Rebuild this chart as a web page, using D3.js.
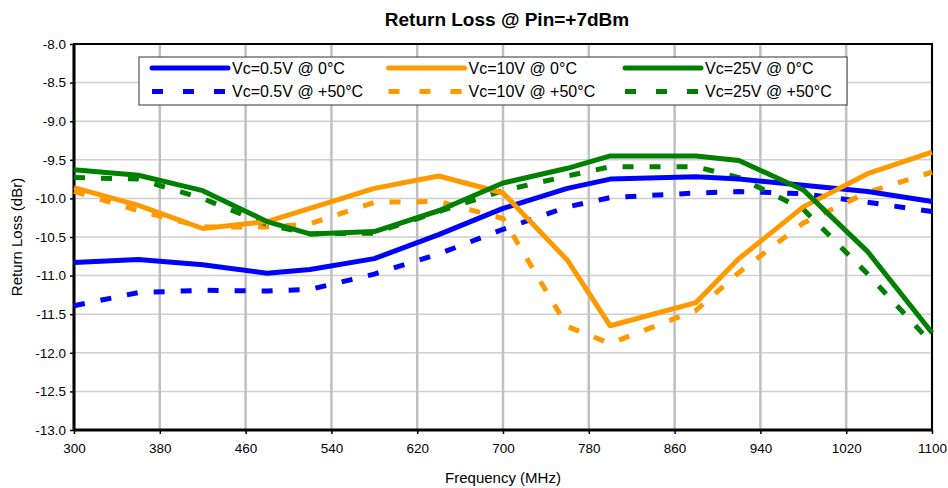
<!DOCTYPE html>
<html>
<head>
<meta charset="utf-8">
<script src="https://cdn.jsdelivr.net/npm/d3@7"></script>
<style>
  body { margin: 0; background: #fff; }
  svg { display: block; font-family: Arial, "Liberation Sans", sans-serif; }
</style>
</head>
<body>
<div id="chart"></div>
<script>
// frequencies (MHz)
const freqs = [300, 360, 420, 480, 520, 580, 640, 700, 760, 800, 880, 920, 980, 1040, 1100];

// return loss (dBr) per series
const vc05Cold = [-10.83, -10.79, -10.86, -10.97, -10.92, -10.78, -10.47, -10.13, -9.87, -9.75, -9.72, -9.75, -9.83, -9.91, -10.04];
const vc05Hot  = [-11.39, -11.22, -11.19, -11.2, -11.18, -10.98, -10.72, -10.4, -10.11, -9.99, -9.93, -9.91, -9.94, -10.05, -10.17];
const vc10Cold = [-9.86, -10.09, -10.39, -10.3, -10.13, -9.87, -9.71, -9.93, -10.8, -11.65, -11.35, -10.78, -10.11, -9.68, -9.4];
const vc10Hot  = [-9.91, -10.16, -10.37, -10.37, -10.33, -10.05, -10.04, -10.26, -11.66, -11.88, -11.45, -10.96, -10.32, -9.92, -9.66];
const vc25Cold = [-9.63, -9.7, -9.9, -10.3, -10.46, -10.43, -10.16, -9.8, -9.61, -9.45, -9.45, -9.51, -9.89, -10.69, -11.74];
const vc25Hot  = [-9.73, -9.75, -10.0, -10.34, -10.46, -10.45, -10.17, -9.9, -9.71, -9.59, -9.59, -9.73, -10.14, -10.98, -11.88];

const seriesNames = ['Vc=0.5V @ 0°C', 'Vc=10V @ 0°C', 'Vc=25V @ 0°C',
                     'Vc=0.5V @ +50°C', 'Vc=10V @ +50°C', 'Vc=25V @ +50°C'];
const seriesValues = [vc05Cold, vc10Cold, vc25Cold, vc05Hot, vc10Hot, vc25Hot];
const seriesColors = ['#0000ff', '#ff9900', '#008000', '#0000ff', '#ff9900', '#008000'];
const seriesDashed = [false, false, false, true, true, true];

const xTicks = [300, 380, 460, 540, 620, 700, 780, 860, 940, 1020, 1100];
const yTicks = [-8.0, -8.5, -9.0, -9.5, -10.0, -10.5, -11.0, -11.5, -12.0, -12.5, -13.0];

const W = 948, H = 488;
const margin = { top: 44, right: 16, bottom: 58, left: 74 };
const width = W - margin.left - margin.right;
const height = H - margin.top - margin.bottom;

const svg = d3.select('#chart').append('svg').attr('width', W).attr('height', H);
const g = svg.append('g').attr('transform', `translate(${margin.left},${margin.top})`);

const x = d3.scaleLinear().domain([300, 1100]).range([0, width]);
const y = d3.scaleLinear().domain([-13, -8]).range([height, 0]);

// grid
g.append('g').selectAll('line').data(yTicks).enter().append('line')
  .attr('x1', 0).attr('x2', width)
  .attr('y1', d => y(d)).attr('y2', d => y(d))
  .attr('stroke', '#cfcfcf').attr('stroke-width', 1.5);
g.append('g').selectAll('line').data(xTicks).enter().append('line')
  .attr('y1', 0).attr('y2', height)
  .attr('x1', d => x(d)).attr('x2', d => x(d))
  .attr('stroke', '#c0c0c0').attr('stroke-width', 2.5);

// axes
const xAxis = g.append('g').attr('transform', `translate(0,${height})`)
  .call(d3.axisBottom(x).tickValues(xTicks).tickSize(4).tickPadding(9).tickFormat(d3.format('d')));
const yAxis = g.append('g')
  .call(d3.axisLeft(y).tickValues(yTicks).tickSize(4).tickPadding(4).tickFormat(d3.format('.1f')));
[xAxis, yAxis].forEach(a => {
  a.select('.domain').remove();
  a.selectAll('line').attr('stroke', '#000').attr('stroke-width', 1.5);
  a.selectAll('text').attr('font-size', 13.5).attr('fill', '#000')
    .attr('font-family', 'Arial, "Liberation Sans", sans-serif');
});
yAxis.selectAll('text').text(d => d3.format('.1f')(d).replace('−', '-'));

// frame
g.append('rect').attr('width', width).attr('height', height)
  .attr('fill', 'none').attr('stroke', '#000').attr('stroke-width', 2);
g.append('line').attr('x1', 0).attr('x2', 0).attr('y1', 0).attr('y2', height)
  .attr('stroke', '#000').attr('stroke-width', 3);
g.append('line').attr('x1', 0).attr('x2', width).attr('y1', height).attr('y2', height)
  .attr('stroke', '#000').attr('stroke-width', 3);

// series lines
const line = d3.line().x((d, i) => x(freqs[i])).y(d => y(d));
const drawOrder = [3, 4, 5, 0, 1, 2];
g.append('g').selectAll('path').data(drawOrder).enter().append('path')
  .attr('d', i => line(seriesValues[i]))
  .attr('fill', 'none')
  .attr('stroke', i => seriesColors[i])
  .attr('stroke-width', 5)
  .attr('stroke-linejoin', 'round')
  .attr('stroke-dasharray', i => seriesDashed[i] ? '11,16' : null);

// legend
const legend = svg.append('g').attr('transform', 'translate(139,57)');
legend.append('rect').attr('width', 708).attr('height', 48)
  .attr('fill', '#fff').attr('stroke', '#333').attr('stroke-width', 1);
seriesNames.forEach((name, i) => {
  const col = i % 3, row = Math.floor(i / 3);
  const lx = 13 + col * 236.5, ly = 11 + row * 23.5;
  const item = legend.append('g').attr('transform', `translate(${lx},${ly})`);
  item.append('line').attr('x1', 0).attr('x2', 76).attr('y1', 0).attr('y2', 0)
    .attr('stroke', seriesColors[i]).attr('stroke-width', 5)
    .attr('stroke-linecap', seriesDashed[i] ? 'butt' : 'round')
    .attr('stroke-dasharray', seriesDashed[i] ? '11,20' : null);
  item.append('text').attr('x', 80).attr('y', 5.5).attr('font-size', 16).text(name);
});

// titles
svg.append('text').attr('x', 507).attr('y', 26).attr('text-anchor', 'middle')
  .attr('font-size', 19).attr('font-weight', 'bold').text('Return Loss @ Pin=+7dBm');
svg.append('text').attr('x', 503).attr('y', 483).attr('text-anchor', 'middle')
  .attr('font-size', 15).text('Frequency (MHz)');
svg.append('text').attr('transform', 'translate(22,237) rotate(-90)').attr('text-anchor', 'middle')
  .attr('font-size', 15).text('Return Loss (dBr)');
</script>
</body>
</html>
